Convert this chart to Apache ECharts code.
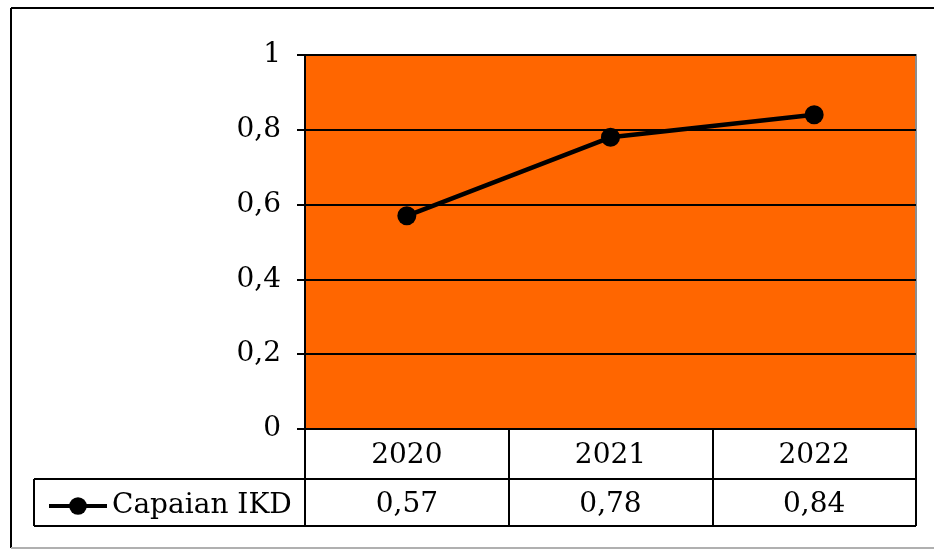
<!DOCTYPE html>
<html>
<head>
<meta charset="utf-8">
<script src="https://cdn.jsdelivr.net/npm/echarts@6/dist/echarts.min.js"></script>
<style>
  html, body { margin: 0; padding: 0; background: #fff; }
  #chart { width: 934px; height: 549px; }
</style>
</head>
<body>
<div id="chart"></div>
<script>
const years = ['2020', '2021', '2022'];
const capaian = [0.57, 0.78, 0.84];
const seriesName = 'Capaian IKD';
const yTicks = [0, 0.2, 0.4, 0.6, 0.8, 1];

const FONT = 'DejaVu Serif';
const FS = 28;
const comma = v => String(v).replace('.', ',');

const chart = echarts.init(document.getElementById('chart'));

const grid = { left: 305, right: 18, top: 55, bottom: 120 };
const rowH = 50;       // first table row (years)
const row2H = 47;      // second table row (values)

chart.setOption({
  animation: false,
  backgroundColor: '#fff',
  textStyle: { fontFamily: FONT },
  grid: {
    left: grid.left, right: grid.right, top: grid.top, bottom: grid.bottom,
    show: true, backgroundColor: '#FF6600', borderColor: '#8c8c8c', borderWidth: 2
  },
  legend: {
    left: 42, top: 487,
    itemWidth: 58, itemHeight: 22, itemGap: 6,
    lineStyle: { width: 4 },
    textStyle: { fontFamily: FONT, fontSize: FS, color: '#000' },
    data: [seriesName]
  },
  xAxis: [
    {
      type: 'category', data: years, boundaryGap: true,
      axisLine: { show: true, lineStyle: { color: '#000', width: 2 } },
      axisTick: { show: true, interval: 0, inside: false, length: rowH + row2H, lineStyle: { color: '#000', width: 2 } },
      axisLabel: { interval: 0, margin: 12, fontFamily: FONT, fontSize: FS, color: '#000', lineHeight: 30 },
      splitLine: { show: false }
    },
    {
      type: 'category', data: capaian.map(comma), boundaryGap: true,
      position: 'bottom', offset: rowH,
      axisLine: { show: false }, axisTick: { show: false },
      axisLabel: { interval: 0, margin: 11, fontFamily: FONT, fontSize: FS, color: '#000', lineHeight: 30 }
    }
  ],
  yAxis: {
    type: 'value', min: yTicks[0], max: yTicks[yTicks.length - 1], interval: 0.2,
    axisLine: { show: true, lineStyle: { color: '#000', width: 2 } },
    axisTick: { show: true, inside: false, length: 8, lineStyle: { color: '#000', width: 2 } },
    axisLabel: { margin: 24, fontFamily: FONT, fontSize: FS, color: '#000', formatter: v => comma(v) },
    splitLine: { show: true, lineStyle: { color: '#000', width: 2 } }
  },
  series: [{
    name: seriesName, type: 'line', data: capaian,
    xAxisIndex: 0,
    symbol: 'circle', symbolSize: 19,
    itemStyle: { color: '#000' },
    lineStyle: { color: '#000', width: 4.5 }
  }]
});

// Data-table borders and outer frame, placed from the grid's own geometry
function drawFrame() {
  const W = chart.getWidth(), H = chart.getHeight();
  const gx1 = W - grid.right, gy1 = H - grid.bottom;
  const tableLeft = 34;
  const line = (x1, y1, x2, y2, color, w) => ({
    type: 'line', silent: true,
    shape: { x1, y1, x2, y2 },
    style: { stroke: color, lineWidth: w }
  });
  chart.setOption({
    graphic: [
      line(tableLeft, gy1 + rowH, gx1, gy1 + rowH, '#000', 2),
      line(tableLeft, gy1 + rowH + row2H, gx1, gy1 + rowH + row2H, '#000', 2),
      line(tableLeft, gy1 + rowH, tableLeft, gy1 + rowH + row2H, '#000', 2),
      line(11, 8, W, 8, '#000', 2),
      line(11, 8, 11, H - 1, '#000', 2),
      line(11, H - 1, W, H - 1, '#b0b0b0', 2)
    ]
  });
}
drawFrame();
</script>
</body>
</html>
